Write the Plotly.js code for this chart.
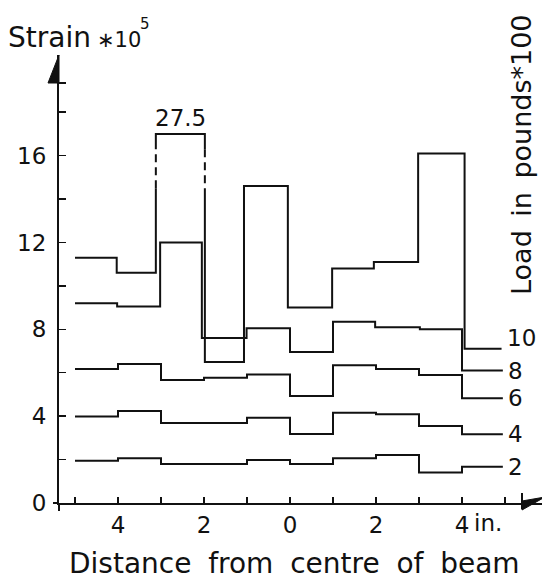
<!DOCTYPE html>
<html><head><meta charset="utf-8">
<script src="https://cdn.plot.ly/plotly-3.0.1.min.js"></script>
<style>html,body{margin:0;padding:0;background:#fff}</style>
</head><body><div id="chart" style="width:542px;height:581px"></div>
<script>
// ---- data ----
const loadLabels = ['10', '8', '6', '4', '2'];
const edges10 = [-5.0, -4.03, -3.12, -1.98, -1.07, -0.05, 0.98, 1.95, 2.98, 4.06, 4.92];
const strain10 = [11.3, 10.6, 27.5, 6.5, 14.6, 9.0, 10.8, 11.1, 16.1, 7.1];
const edges8 = [-5.0, -4.02, -3.02, -2.05, -1.01, 0.0, 1.0, 1.98, 3.02, 4.0, 4.95];
const strain8 = [9.2, 9.05, 12.0, 7.6, 8.05, 6.95, 8.35, 8.1, 8.0, 6.1];
const edgesLow = [-5, -4, -3, -2, -1, 0, 1, 2, 3, 4, 4.95];
const strain6 = [6.17, 6.4, 5.67, 5.77, 5.92, 4.93, 6.35, 6.17, 5.9, 4.83];
const strain4 = [3.98, 4.24, 3.68, 3.68, 3.93, 3.18, 4.16, 4.09, 3.55, 3.17];
const strain2 = [1.95, 2.06, 1.8, 1.8, 1.98, 1.8, 2.06, 2.21, 1.4, 1.67];
const xTickVals = [-5, -4, -3, -2, -1, 0, 1, 2, 3, 4, 5];
const xTickText = ['', '4', '', '2', '', '0', '', '2', '', '4', ''];
const yTickVals = [0, 2, 4, 6, 8, 10, 12, 14, 16, 18];
const yTickText = ['0', '', '4', '', '8', '', '12', '', '16', ''];

// ---- drawing settings (off-scale bar is drawn broken) ----
const clipTop = 17, breakFrom = 14.5, breakTo = 16.3;
const FONT = 'DejaVu Sans, Liberation Sans, Arial, sans-serif';
const INK = '#111';

function stepXY(e, v) {
  const x = [], y = [];
  for (let i = 0; i < v.length; i++) {
    const val = Math.min(v[i], clipTop);
    if (i > 0) {
      const prev = Math.min(v[i - 1], clipTop);
      const lo = Math.min(prev, val);
      if ((v[i] > clipTop || v[i - 1] > clipTop) && lo < breakFrom) {
        if (prev < val) { x.push(e[i], null, e[i]); y.push(breakFrom, null, breakTo); }
        else { x.push(e[i], null, e[i]); y.push(breakTo, null, breakFrom); }
      }
    }
    x.push(e[i], e[i + 1]); y.push(val, val);
  }
  return { x, y };
}
function dashedXY(e, v) {
  const x = [], y = [];
  for (let i = 0; i < v.length; i++) {
    if (v[i] > clipTop) {
      x.push(e[i], e[i], null, e[i + 1], e[i + 1], null);
      y.push(breakFrom, breakTo, null, breakTo, breakFrom, null);
    }
  }
  return { x, y };
}

const series = [
  [edges10, strain10], [edges8, strain8], [edgesLow, strain6], [edgesLow, strain4], [edgesLow, strain2]
];
const traces = [];
series.forEach(([e, v], k) => {
  const s = stepXY(e, v);
  traces.push({ x: s.x, y: s.y, mode: 'lines', line: { color: INK, width: 2 }, connectgaps: false, hoverinfo: 'skip', name: loadLabels[k] });
  const d = dashedXY(e, v);
  if (d.x.length) traces.push({ x: d.x, y: d.y, mode: 'lines', line: { color: INK, width: 2, dash: '8px,5px' }, hoverinfo: 'skip' });
});

// paper-coordinate helpers (plot area: x 59..542, y 55..503)
const L = 59, R = 542, T = 55, B = 503;
const px = p => (p - L) / (R - L);
const py = p => (B - p) / (B - T);

const annotations = [];
series.forEach(([e, v], k) => {
  annotations.push({
    x: e[e.length - 1], y: v[v.length - 1], xref: 'x', yref: 'y', text: loadLabels[k],
    xanchor: 'left', yanchor: k === 0 ? 'bottom' : 'middle', xshift: 3, yshift: k === 0 ? -4 : 0,
    showarrow: false, font: { family: FONT, size: 23, color: INK }
  });
});
strain10.forEach((v, i) => {
  if (v > clipTop) annotations.push({
    x: (edges10[i] + edges10[i + 1]) / 2, y: clipTop, xref: 'x', yref: 'y', text: String(v),
    yanchor: 'bottom', showarrow: false, yshift: 1, font: { family: FONT, size: 23, color: INK }
  });
});
annotations.push(
  { x: px(6), y: py(37), xref: 'paper', yref: 'paper', xanchor: 'left', yanchor: 'middle', showarrow: false,
    text: "Strain", font: { family: FONT, size: 28, color: INK } },
  { x: px(95), y: py(40), xref: 'paper', yref: 'paper', xanchor: 'left', yanchor: 'middle', showarrow: false,
    text: "\u221710", font: { family: FONT, size: 21, color: INK } },
  { x: px(138), y: py(24), xref: 'paper', yref: 'paper', xanchor: 'left', yanchor: 'middle', showarrow: false,
    text: "5", font: { family: FONT, size: 15, color: INK } },
  { x: px(521), y: py(155), xref: 'paper', yref: 'paper', xanchor: 'center', yanchor: 'middle', showarrow: false, textangle: -90,
    text: "Load\u2002in\u2002pounds*100", font: { family: FONT, size: 27, color: INK } },
  { x: px(294), y: py(563), xref: 'paper', yref: 'paper', xanchor: 'center', yanchor: 'middle', showarrow: false,
    text: "Distance\u2002\u200Afrom\u2002\u200Acentre\u2002\u200Aof\u2002\u200Abeam", font: { family: FONT, size: 28, color: INK } },
  { x: 4, y: py(523), xref: 'x', yref: 'paper', xanchor: 'left', yanchor: 'middle', xshift: 10, showarrow: false,
    text: "in.", font: { family: FONT, size: 23, color: INK } }
);

const shapes = [
  { type: 'path', xref: 'paper', yref: 'paper', path: `M ${px(59)} ${py(55)} L ${px(48)} ${py(83)} L ${px(59)} ${py(83)} Z`, fillcolor: INK, line: { color: INK, width: 1 } },
  { type: 'line', xref: 'paper', yref: 'paper', x0: px(59), x1: px(66), y0: py(83), y1: py(83), line: { color: INK, width: 2 } },
  { type: 'line', xref: 'paper', yref: 'paper', x0: px(59), x1: px(59), y0: py(503), y1: py(511), line: { color: INK, width: 2 } },
  { type: 'line', xref: 'paper', yref: 'paper', x0: px(53), x1: px(59), y0: py(503), y1: py(503), line: { color: INK, width: 2 } },
  { type: 'line', xref: 'paper', yref: 'paper', x0: px(522), x1: px(522), y0: py(493), y1: py(509), line: { color: INK, width: 2 } },
  { type: 'path', xref: 'paper', yref: 'paper', path: `M ${px(522)} ${py(501)} L ${px(522)} ${py(510)} L ${px(545)} ${py(497)} Z`, fillcolor: INK, line: { color: INK, width: 1 } }
];

const layout = {
  width: 542, height: 581,
  margin: { l: L, r: 542 - R, t: T, b: 581 - B, pad: 0 },
  paper_bgcolor: '#fff', plot_bgcolor: 'rgba(0,0,0,0)',
  showlegend: false,
  xaxis: {
    range: [(L - 290) / 43, (R - 290) / 43], showgrid: false, zeroline: false,
    showline: true, linecolor: INK, linewidth: 2,
    ticks: 'inside', ticklen: 6, tickwidth: 1.5, tickcolor: INK,
    tickvals: xTickVals, ticktext: xTickText, ticklabelstandoff: 0,
    tickfont: { family: FONT, size: 23, color: INK }, fixedrange: true
  },
  yaxis: {
    range: [0, (B - T) / 21.71], showgrid: false, zeroline: false,
    showline: true, linecolor: INK, linewidth: 2,
    ticks: 'inside', ticklen: 7, tickwidth: 1.5, tickcolor: INK,
    tickvals: yTickVals, ticktext: yTickText, ticklabelstandoff: 6,
    tickfont: { family: FONT, size: 23, color: INK }, fixedrange: true
  },
  annotations, shapes
};
Plotly.newPlot('chart', traces, layout, { staticPlot: true });
</script></body></html>
